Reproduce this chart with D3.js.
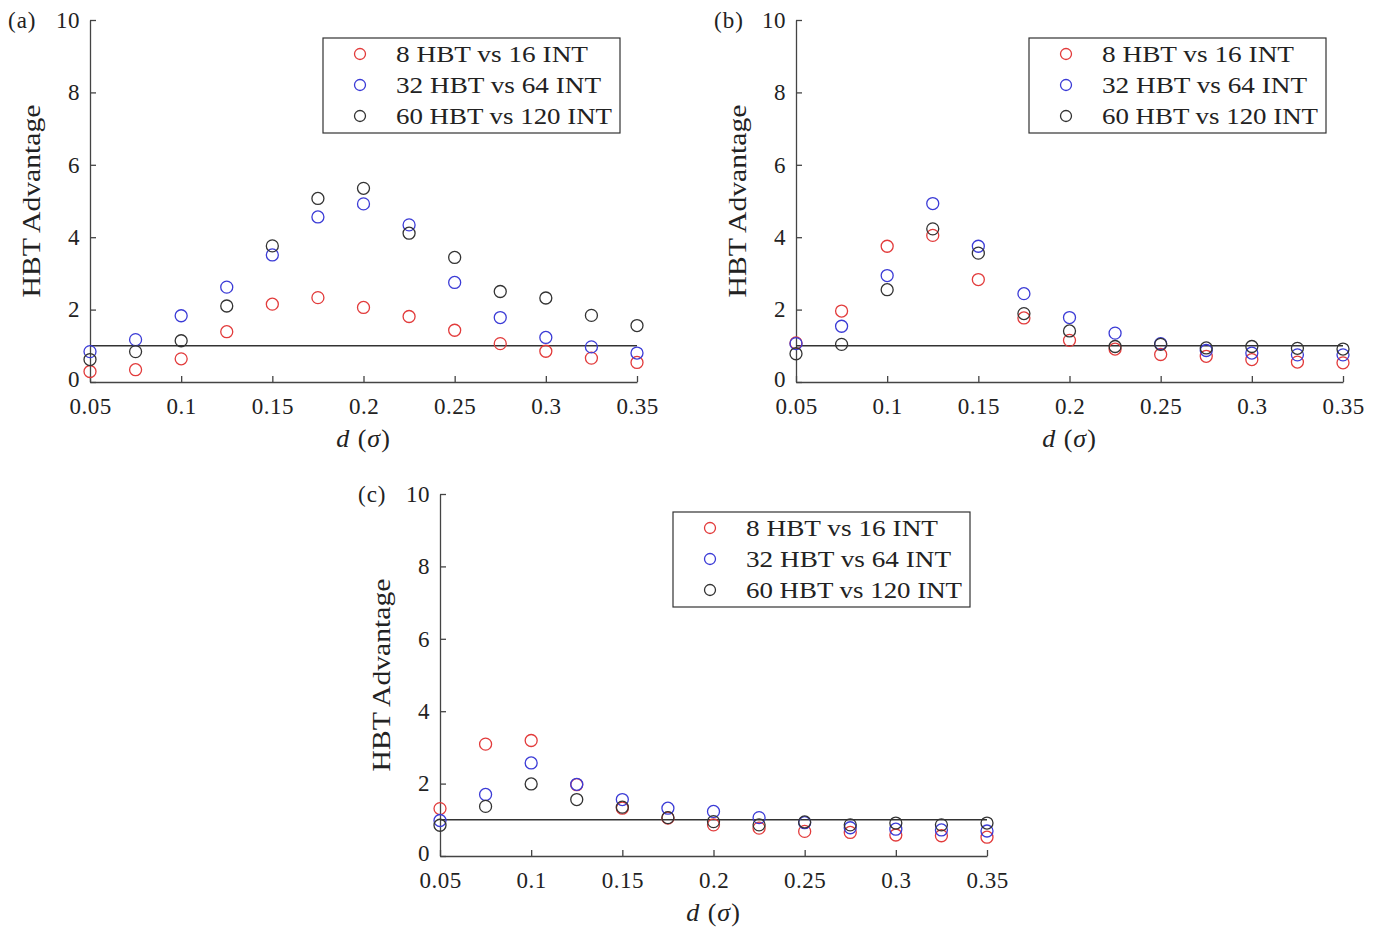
<!DOCTYPE html>
<html>
<head>
<meta charset="utf-8">
<script src="https://cdn.jsdelivr.net/npm/d3@7"></script>
<style>
  body { margin: 0; background: #fff; }
  svg text { font-family: "Liberation Serif", "Times New Roman", serif; fill: #222; }
</style>
</head>
<body>
<div id="chart"></div>
<script>
// x values (d in sigma)
var dVals = [0.05, 0.075, 0.1, 0.125, 0.15, 0.175, 0.2, 0.225, 0.25, 0.275, 0.3, 0.325, 0.35];
var seriesNames = ["8 HBT vs 16 INT", "32 HBT vs 64 INT", "60 HBT vs 120 INT"];
var legendWidths = [192, 205, 216];
var seriesColors = ["#e23b3b", "#3b3bd6", "#333333"];
var yTicks = [0, 2, 4, 6, 8, 10];
var xTicks = [0.05, 0.1, 0.15, 0.2, 0.25, 0.3, 0.35];

// panel (a)
var aRed   = [0.29, 0.34, 0.64, 1.39, 2.15, 2.33, 2.06, 1.81, 1.43, 1.06, 0.85, 0.66, 0.54];
var aBlue  = [0.84, 1.17, 1.83, 2.62, 3.51, 4.56, 4.92, 4.34, 2.75, 1.78, 1.23, 0.97, 0.80];
var aBlack = [0.62, 0.84, 1.14, 2.10, 3.76, 5.07, 5.35, 4.11, 3.44, 2.50, 2.32, 1.84, 1.56];
// panel (b)
var bRed   = [1.08, 1.96, 3.75, 4.05, 2.83, 1.77, 1.15, 0.91, 0.76, 0.71, 0.62, 0.55, 0.53];
var bBlue  = [1.06, 1.54, 2.94, 4.93, 3.75, 2.44, 1.78, 1.35, 1.06, 0.87, 0.80, 0.75, 0.75];
var bBlack = [0.78, 1.04, 2.55, 4.23, 3.56, 1.89, 1.41, 0.98, 1.04, 0.94, 0.98, 0.93, 0.91];
// panel (c)
var cRed   = [1.31, 3.09, 3.19, 1.97, 1.32, 1.05, 0.86, 0.77, 0.68, 0.65, 0.58, 0.56, 0.52];
var cBlue  = [0.98, 1.70, 2.57, 1.98, 1.56, 1.32, 1.23, 1.06, 0.92, 0.78, 0.74, 0.72, 0.69];
var cBlack = [0.85, 1.37, 1.99, 1.56, 1.35, 1.06, 0.95, 0.86, 0.94, 0.86, 0.91, 0.86, 0.91];

var svg = d3.select("#chart").append("svg")
    .attr("width", 1380)
    .attr("height", 928);

var W = 547, H = 362;

function drawPanel(left, top, label, series, legX, legY) {
  var g = svg.append("g").attr("transform", "translate(" + left + "," + top + ")");
  var x = d3.scaleLinear().domain([0.05, 0.35]).range([0, W]);
  var y = d3.scaleLinear().domain([0, 10]).range([H, 0]);

  var xAxis = g.append("g").attr("transform", "translate(0," + H + ")")
      .call(d3.axisBottom(x).tickValues(xTicks).tickSizeInner(-6).tickSizeOuter(0)
        .tickFormat(function(d) { return d3.format("")(+d.toFixed(2)); }));
  xAxis.selectAll("text").attr("y", 16).attr("dy", "0.71em")
      .style("font-size", "23px").style("letter-spacing", "0.5px");

  var yAxis = g.append("g")
      .call(d3.axisLeft(y).tickValues(yTicks).tickSizeInner(-6).tickSizeOuter(0));
  yAxis.selectAll("text").attr("x", -10)
      .style("font-size", "23px").style("letter-spacing", "0.5px");
  // keep the "0" label a touch above the x labels
  yAxis.selectAll(".tick").filter(function(d) { return d === 0; })
      .select("text").attr("dy", "0.2em");

  svg.selectAll(".domain, .tick line").attr("stroke", "#444").attr("stroke-width", 1.3);

  // reference line at 1
  g.append("line")
      .attr("x1", x(0.05)).attr("x2", x(0.35))
      .attr("y1", y(1)).attr("y2", y(1))
      .attr("stroke", "#333").attr("stroke-width", 1.5);

  series.forEach(function(vals, i) {
    g.selectAll(".pt" + i)
      .data(vals)
      .enter()
      .append("circle")
      .attr("cx", function(d, j) { return x(dVals[j]); })
      .attr("cy", function(d) { return y(d); })
      .attr("r", 6)
      .attr("fill", "none")
      .attr("stroke", seriesColors[i])
      .attr("stroke-width", 1.3);
  });

  g.append("text")
      .attr("x", W / 2).attr("y", H + 65)
      .attr("text-anchor", "middle")
      .style("font-size", "26px")
      .style("letter-spacing", "1px")
      .html('<tspan font-style="italic">d</tspan> (<tspan font-style="italic">σ</tspan>)');

  g.append("text")
      .attr("transform", "translate(-50," + (H / 2) + ") rotate(-90)")
      .attr("text-anchor", "middle")
      .attr("textLength", 193)
      .attr("lengthAdjust", "spacingAndGlyphs")
      .style("font-size", "25px")
      .text("HBT Advantage");

  g.append("text")
      .attr("x", -82).attr("y", 8)
      .style("font-size", "23px")
      .style("letter-spacing", "1px")
      .text(label);

  // legend
  var lg = g.append("g").attr("transform", "translate(" + (legX - left) + "," + (legY - top) + ")");
  lg.append("rect")
      .attr("width", 297).attr("height", 95)
      .attr("fill", "#fff").attr("stroke", "#333").attr("stroke-width", 1.2);
  seriesNames.forEach(function(name, i) {
    lg.append("circle")
        .attr("cx", 37).attr("cy", 16 + i * 31)
        .attr("r", 5.5)
        .attr("fill", "none")
        .attr("stroke", seriesColors[i])
        .attr("stroke-width", 1.3);
    lg.append("text")
        .attr("x", 73).attr("y", 16 + i * 31)
        .attr("dy", "0.35em")
        .attr("textLength", legendWidths[i])
        .attr("lengthAdjust", "spacingAndGlyphs")
        .style("font-size", "24px")
        .text(name);
  });
}

drawPanel(90, 20, "(a)", [aRed, aBlue, aBlack], 323, 38);
drawPanel(796, 20, "(b)", [bRed, bBlue, bBlack], 1029, 38);
drawPanel(440, 494, "(c)", [cRed, cBlue, cBlack], 673, 512);
</script>
</body>
</html>
